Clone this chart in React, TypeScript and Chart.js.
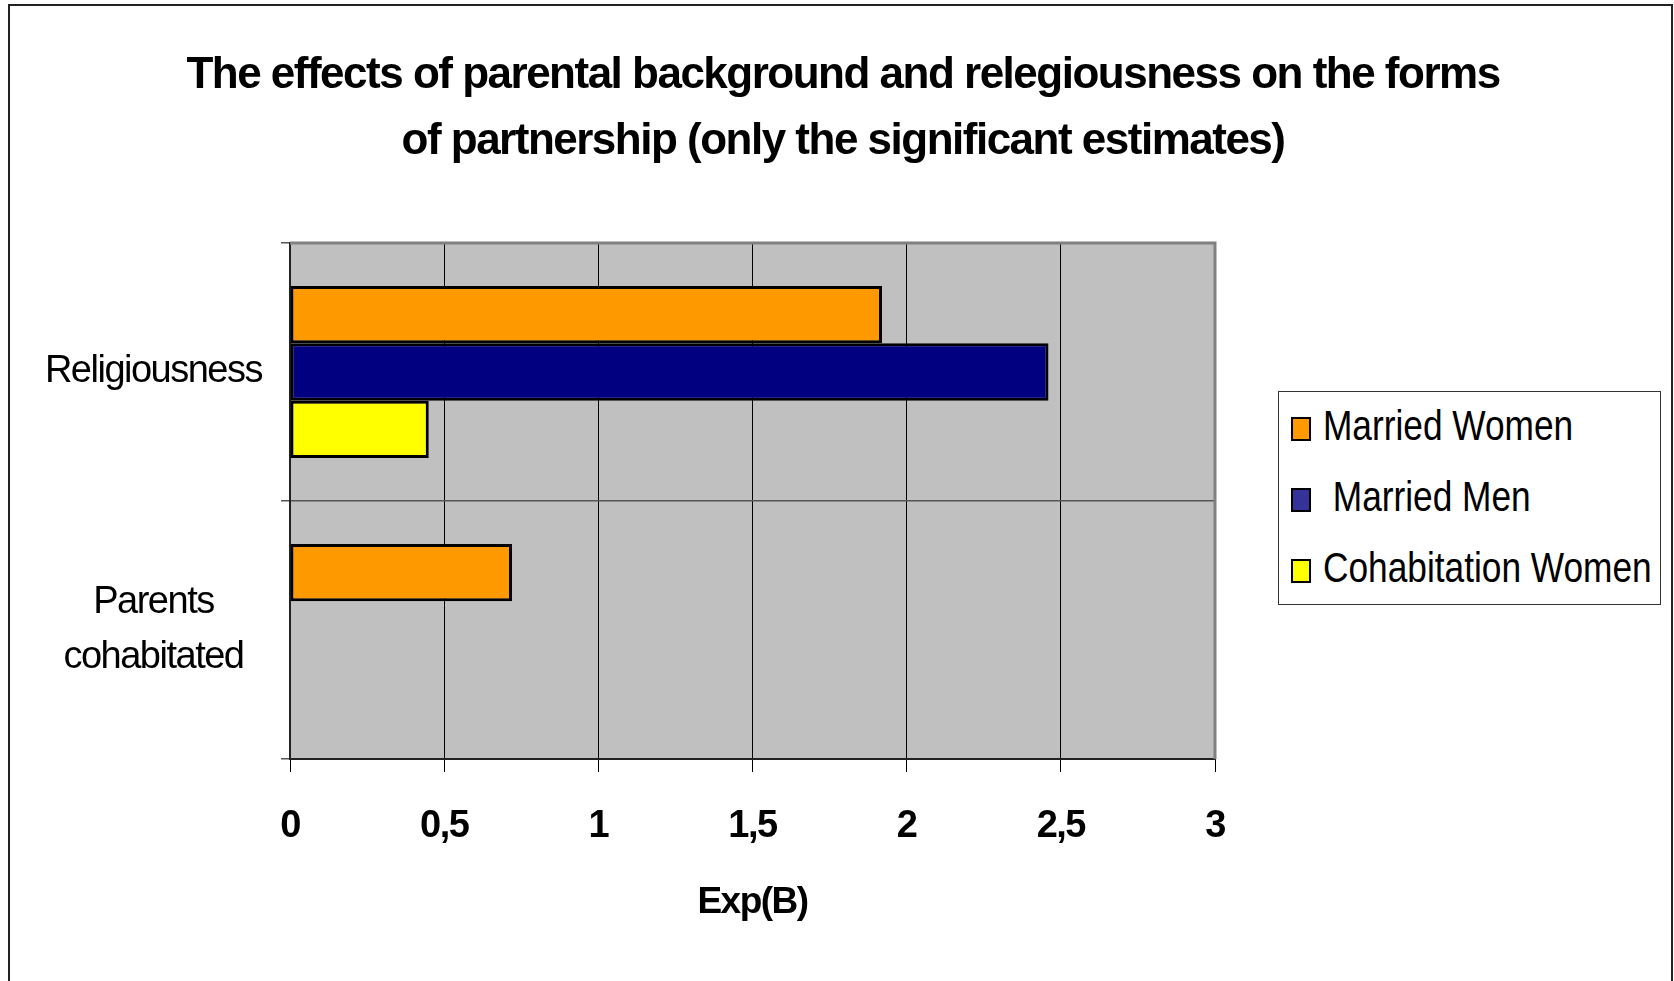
import React, { useEffect, useRef } from 'react';
import { Chart, registerables } from 'chart.js';

Chart.register(...registerables);

const FONT = '"Liberation Sans", Arial, sans-serif';
const LETTER_SPACING = '-1.5px';

const titleLines = [
  'The effects of parental background and relegiousness on the forms',
  'of partnership (only the significant estimates)',
];
const categories: (string | string[])[] = ['Religiousness', ['Parents', 'cohabitated']];
const seriesNames = ['Married Women', ' Married Men', 'Cohabitation Women'];
const marriedWomen = [1.92, 0.72];
const marriedMen: (number | null)[] = [2.46, null];
const cohabitationWomen: (number | null)[] = [0.45, null];
const barColors = ['#FF9900', '#000080', '#FFFF00'];
const legendColors = ['#FF9900', '#333399', '#FFFF00'];
const xTicks = [0, 0.5, 1, 1.5, 2, 2.5, 3];
const xTitle = 'Exp(B)';

const W = 1674;
const H = 981;

const setSpacing = (chart: any) => {
  const ctx = chart.ctx as any;
  if (ctx && 'letterSpacing' in ctx) ctx.letterSpacing = LETTER_SPACING;
};

const framePlugin = {
  id: 'frame',
  beforeUpdate(chart: any) {
    setSpacing(chart);
  },
  beforeLayout(chart: any) {
    setSpacing(chart);
  },
  beforeDraw(chart: any) {
    setSpacing(chart);
    const { ctx, chartArea: a, width, height } = chart;
    ctx.save();
    ctx.fillStyle = '#ffffff';
    ctx.fillRect(0, 0, width, height);
    ctx.fillStyle = '#C0C0C0';
    ctx.fillRect(a.left, a.top, a.right - a.left, a.bottom - a.top);
    ctx.strokeStyle = '#222222';
    ctx.lineWidth = 2;
    ctx.strokeRect(9, 5, width - 11, height + 20);
    ctx.restore();
  },
  beforeDatasetsDraw(chart: any) {
    const { ctx, chartArea: a } = chart;
    ctx.save();
    ctx.strokeStyle = '#808080';
    ctx.lineWidth = 3;
    ctx.beginPath();
    ctx.moveTo(a.left, a.top);
    ctx.lineTo(a.right, a.top);
    ctx.lineTo(a.right, a.bottom);
    ctx.stroke();
    ctx.restore();
  },
};

export default function App() {
  const canvasRef = useRef<HTMLCanvasElement | null>(null);

  useEffect(() => {
    document.body.style.margin = '0';
    const canvas = canvasRef.current;
    if (!canvas) return;
    const data = [marriedWomen, marriedMen, cohabitationWomen];
    const chart = new Chart(canvas, {
      type: 'bar',
      data: {
        labels: categories as any,
        datasets: seriesNames.map((name, i) => ({
          label: name.trim(),
          data: data[i] as any,
          backgroundColor: barColors[i],
          borderColor: '#000000',
          borderWidth: 3,
          borderSkipped: false,
          barPercentage: 1,
          categoryPercentage: 0.667,
        })),
      },
      options: {
        indexAxis: 'y',
        animation: false,
        responsive: false,
        layout: { padding: { left: 12, right: 0, top: 0, bottom: 0 } },
        plugins: {
          legend: { display: false },
          tooltip: { enabled: false },
          title: {
            display: true,
            text: titleLines,
            color: '#000000',
            font: { family: FONT, size: 44, weight: 'bold', lineHeight: 1.5 },
            padding: { top: 42.8, bottom: 68.2 },
          },
        },
        scales: {
          x: {
            type: 'linear',
            min: 0,
            max: 3,
            afterBuildTicks: (s: any) => {
              s.ticks = xTicks.map((v) => ({ value: v }));
            },
            afterFit: (s: any) => {
              s.height = 222;
            },
            grid: { color: '#000000', lineWidth: 1, tickLength: 13 },
            border: { color: '#222222', width: 2 },
            ticks: {
              color: '#000000',
              padding: 32,
              font: { family: FONT, size: 38, weight: 'bold', lineHeight: 1.2 },
              callback: (v: any) => String(v).replace('.', ','),
            },
            title: {
              display: true,
              text: xTitle,
              color: '#000000',
              font: { family: FONT, size: 37, weight: 'bold', lineHeight: 1.2 },
              padding: { top: 0, bottom: 55.6 },
            },
          },
          y: {
            type: 'category',
            offset: true,
            afterFit: (s: any) => {
              s.width = 278;
            },
            grid: { offset: true, color: '#555555', lineWidth: 1.5, tickLength: 9 },
            border: { color: '#222222', width: 2 },
            ticks: {
              color: '#000000',
              padding: 19,
              crossAlign: 'center',
              font: { family: FONT, size: 38, lineHeight: 1.47 },
            },
          },
          y2: {
            type: 'linear',
            position: 'right',
            display: true,
            grid: { display: false },
            border: { display: false },
            ticks: { display: false },
            afterFit: (s: any) => {
              s.width = 459;
            },
          },
        },
      } as any,
      plugins: [framePlugin],
    });
    return () => chart.destroy();
  }, []);

  return (
    <div style={{ position: 'relative', width: W, height: H, overflow: 'hidden' }}>
      <canvas ref={canvasRef} width={W} height={H} style={{ display: 'block', width: W, height: H }} />
      <div
        style={{
          position: 'absolute',
          left: 1278,
          top: 391,
          width: 383,
          height: 214,
          boxSizing: 'border-box',
          border: '1.5px solid #333333',
          background: '#ffffff',
          fontFamily: FONT,
          fontSize: 43,
          color: '#000000',
        }}
      >
        <div style={{ position: 'absolute', left: 0, right: 0, top: -2 }}>
          {seriesNames.map((name, i) => (
            <div
              key={name}
              style={{ height: 71, display: 'flex', alignItems: 'center', paddingLeft: 11.5 }}
            >
              <span
                style={{
                  width: 20,
                  height: 24,
                  boxSizing: 'border-box',
                  border: '2px solid #000000',
                  background: legendColors[i],
                  marginRight: 12,
                  flex: 'none',
                  position: 'relative',
                  top: 3,
                }}
              />
              <span
                style={{
                  whiteSpace: 'pre',
                  lineHeight: 1,
                  display: 'inline-block',
                  transform: 'scaleX(0.82)',
                  transformOrigin: 'left center',
                }}
              >
                {name}
              </span>
            </div>
          ))}
        </div>
      </div>
    </div>
  );
}
